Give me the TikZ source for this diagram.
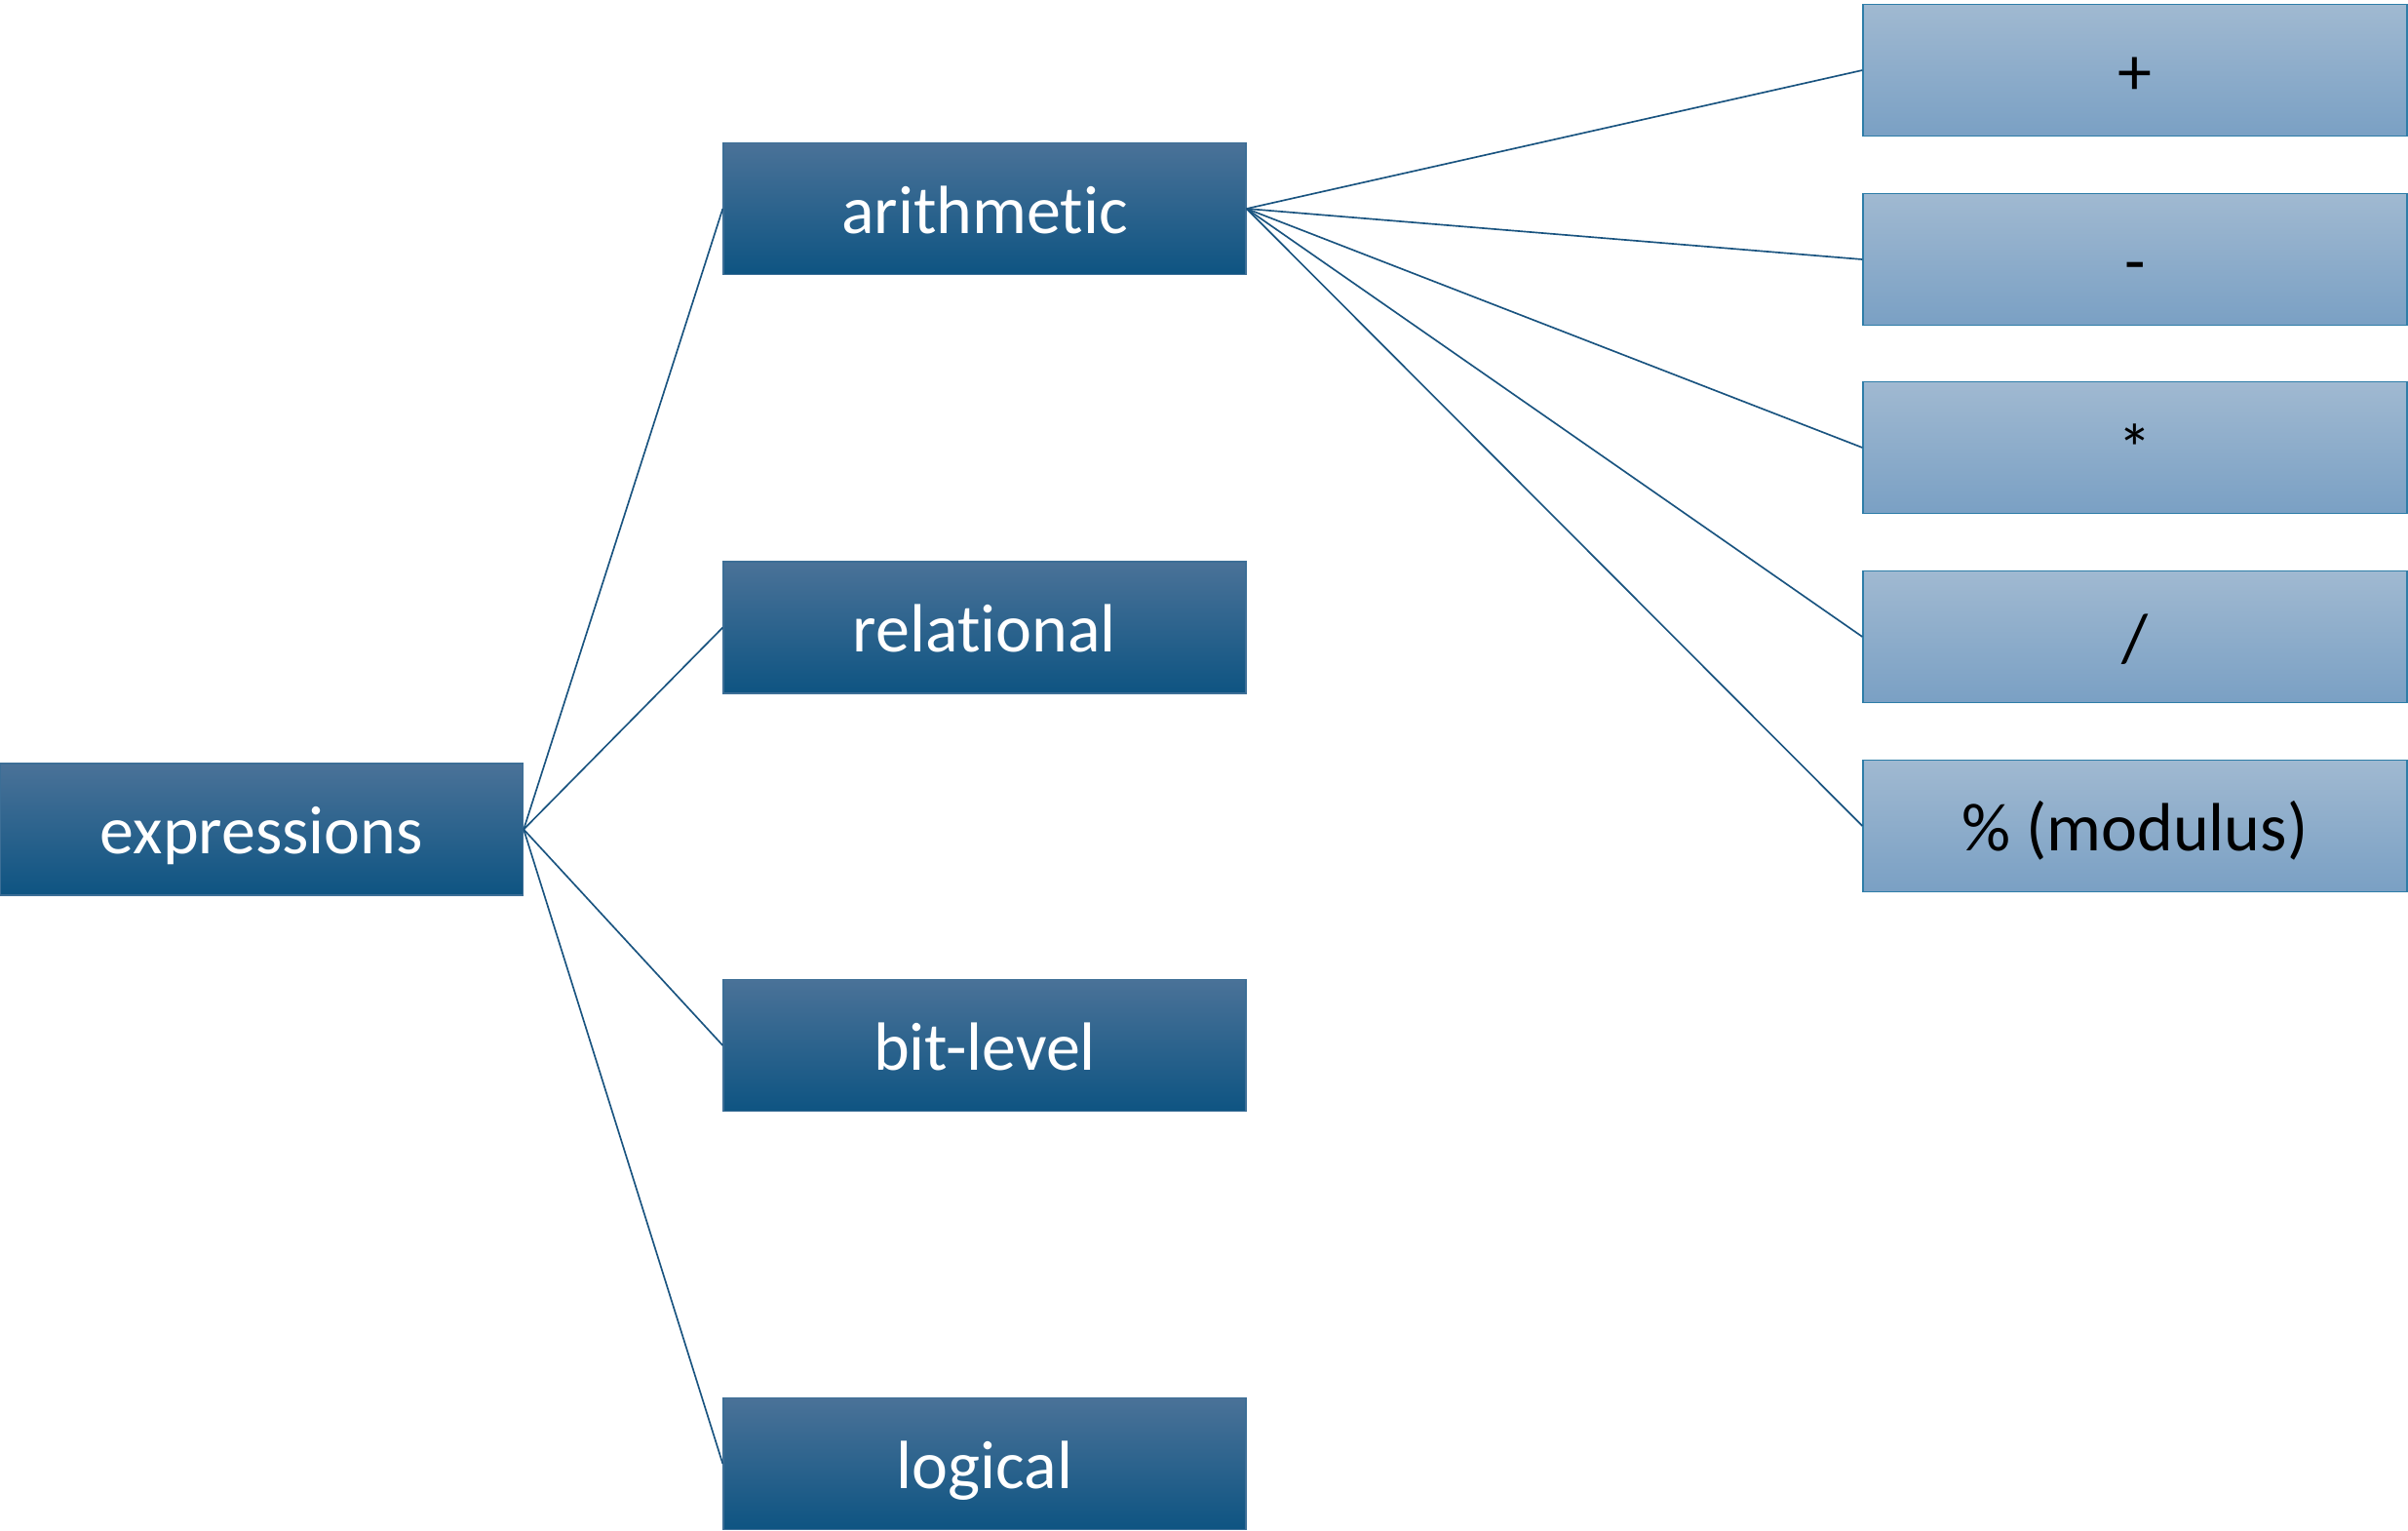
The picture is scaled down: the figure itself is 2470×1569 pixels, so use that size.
\documentclass[tikz,border=0pt]{standalone}
\usepackage{fontspec}
\setmainfont[Ligatures={NoCommon}]{Carlito}
\definecolor{dtop}{RGB}{74,114,152}
\definecolor{dmid}{RGB}{24,94,140}
\definecolor{dbot}{RGB}{14,84,130}
\definecolor{dborder}{RGB}{60,110,150}
\definecolor{ltop}{RGB}{160,185,209}
\definecolor{lbot}{RGB}{122,160,196}
\definecolor{lborder}{RGB}{46,125,168}
\definecolor{linkc}{RGB}{26,84,128}
\begin{document}
\begin{tikzpicture}[x=0.3pt,y=-0.3pt,
  boxbase/.style={rectangle, line width=0.4pt, minimum height=40.5pt, inner sep=0pt,
    text height=18pt, text depth=2.8pt, font=\fontsize{21}{25}\selectfont},
  darkbox/.style={boxbase, draw=dborder, top color=dtop, middle color=dmid, bottom color=dbot,
    text=white, minimum width=160.8pt},
  lightbox/.style={boxbase, draw=lborder, top color=ltop, bottom color=lbot,
    text=black, minimum width=167.4pt},
  link/.style={draw=linkc, line width=0.5pt}]
\useasboundingbox (0,0) rectangle (2470,1569);
\node[darkbox] (expr) at (268.5,850.5) {expressions};
\node[darkbox] (arith) at (1010,214) {arithmetic};
\node[darkbox] (rel) at (1010,643.5) {relational};
\node[darkbox] (bit) at (1010,1072) {bit-level};
\node[darkbox] (logic) at (1010,1501) {logical};
\node[lightbox] (plus) at (2190,72) {+};
\node[lightbox] (minus) at (2190,266) {-};
\node[lightbox] (times) at (2190,459) {*};
\node[lightbox] (div) at (2190,653) {/};
\node[lightbox] (mod) at (2190,847) {\% (modulus)};
\foreach \t in {arith,rel,bit,logic} \draw[link] (expr.east) -- (\t.west);
\foreach \t in {plus,minus,times,div,mod} \draw[link] (arith.east) -- (\t.west);
\end{tikzpicture}
\end{document}
